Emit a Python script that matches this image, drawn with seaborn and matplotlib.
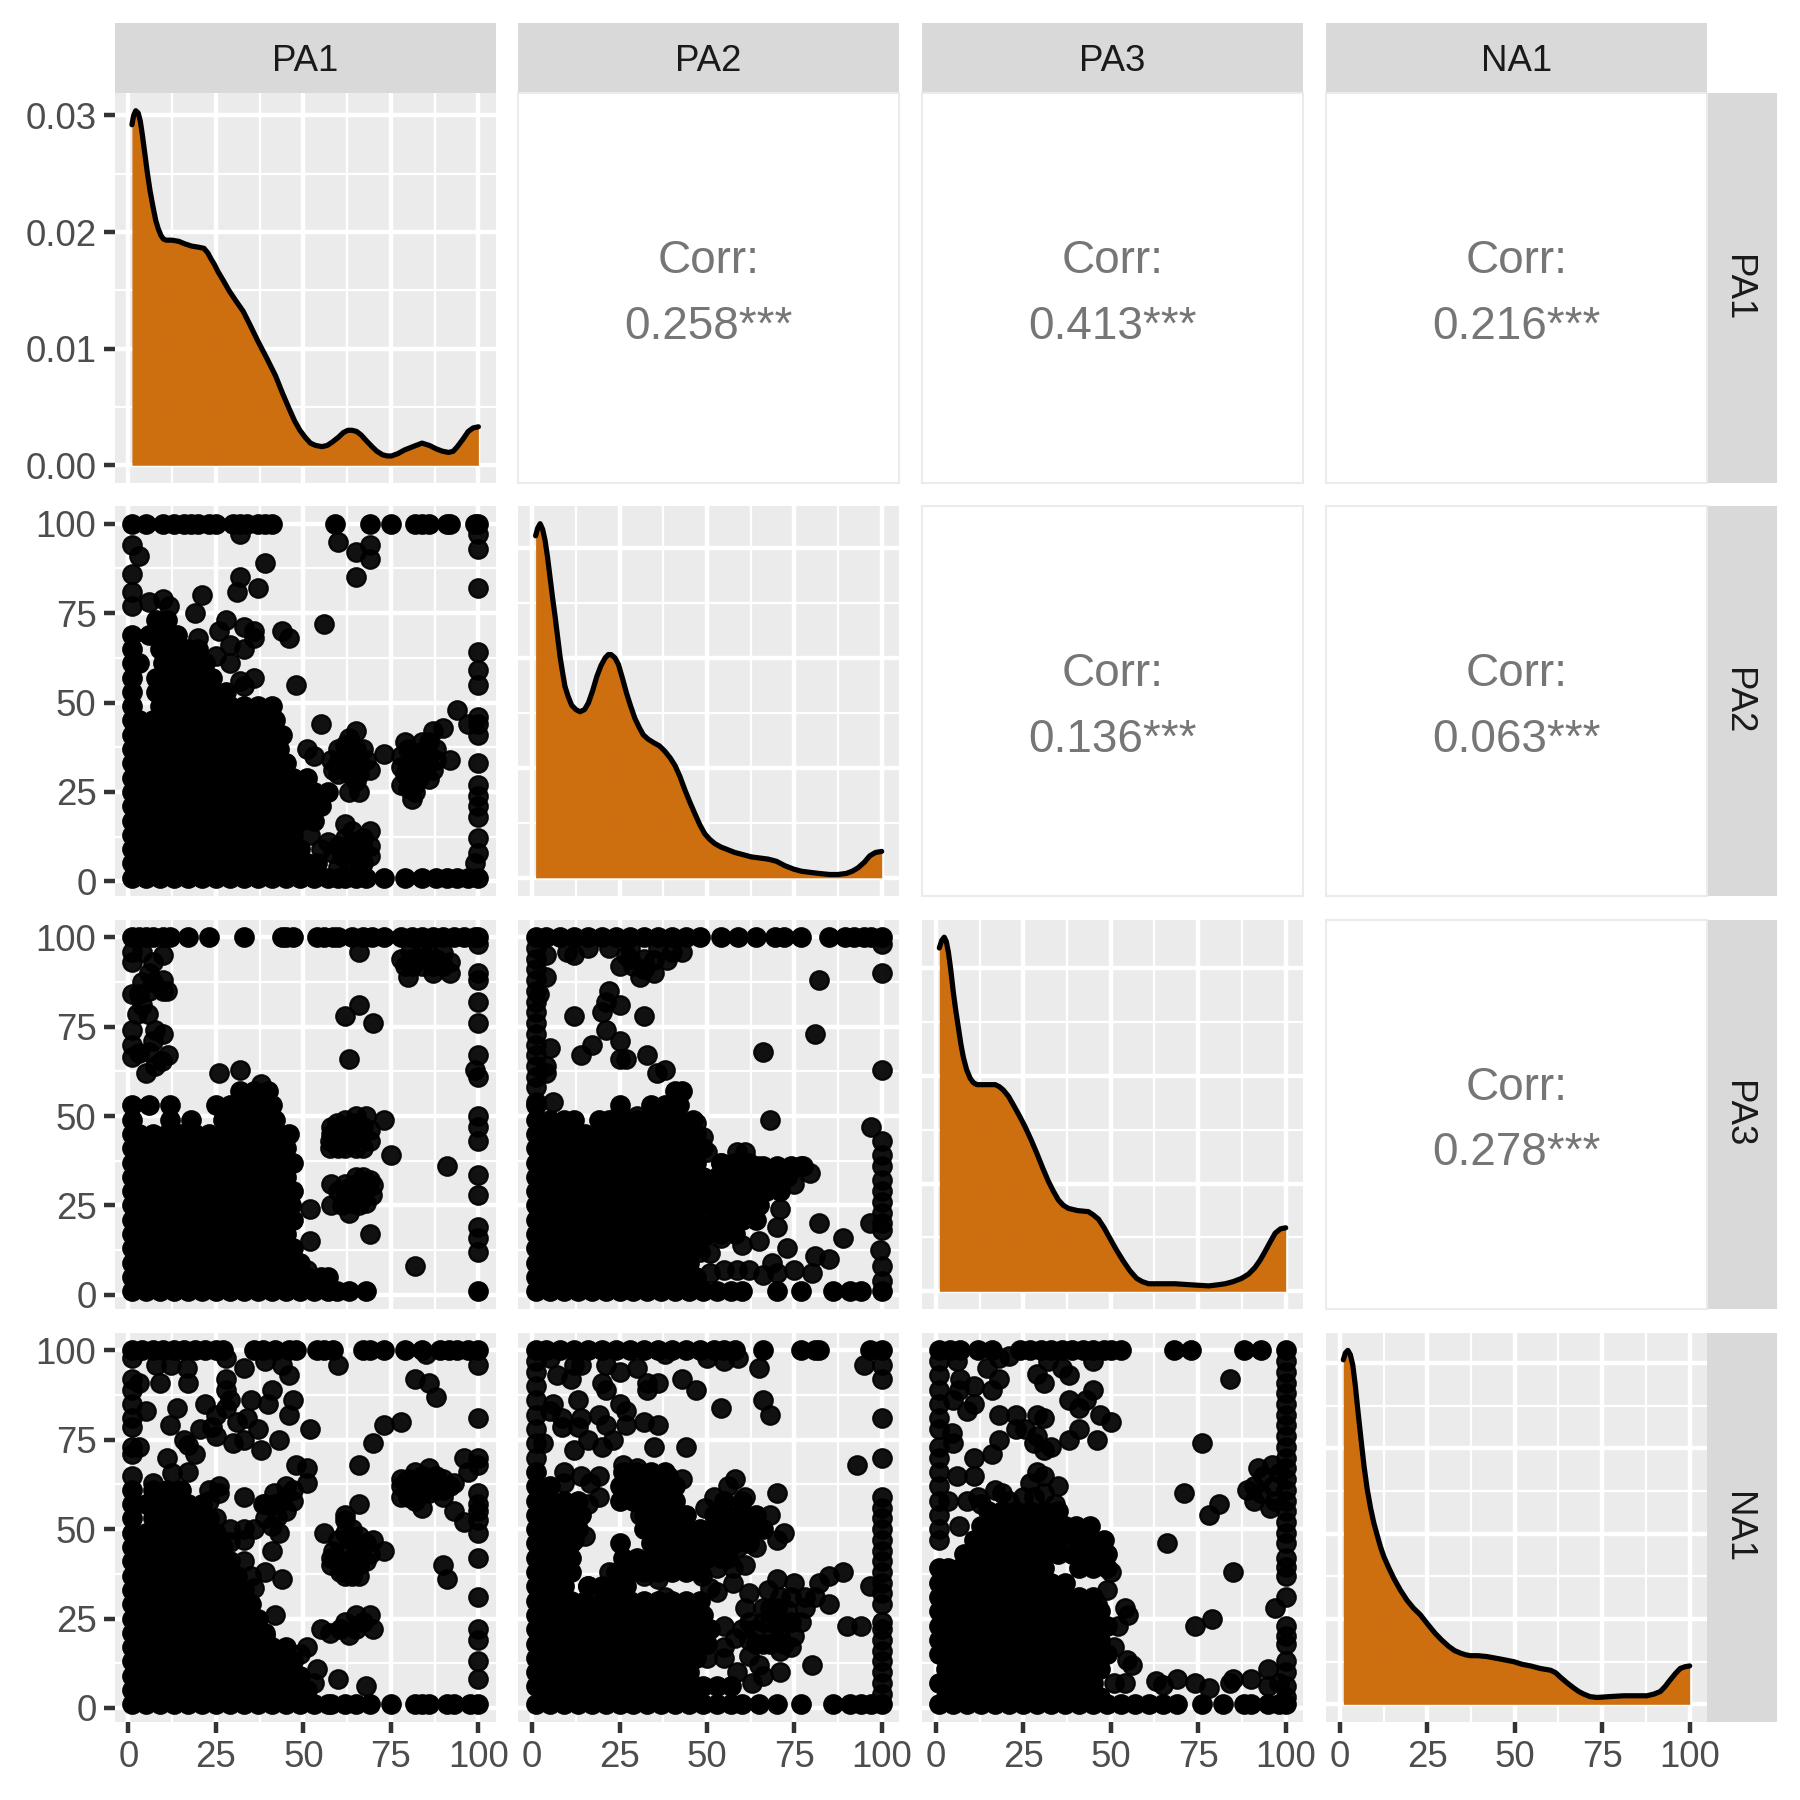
import matplotlib
matplotlib.use("Agg")
import matplotlib.pyplot as plt
import pandas as pd
import seaborn as sns

labels = ["PA1", "PA2", "PA3", "NA1"]
corr_text = {(0, 1): "0.258***", (0, 2): "0.413***", (0, 3): "0.216***",
             (1, 2): "0.136***", (1, 3): "0.063***", (2, 3): "0.278***"}

# density curves
pa1_density = [(1, .0292), (1.5, .0300), (2.1, .0304), (2.8, .0302), (3.4, .0295), (4, .0283), (4.7, .0267), (5.4, .0251), (6.2, .0235), (7, .0222), (7.8, .0210), (8.5, .0203), (9.3, .0197), (10, .0194), (10.8, .0193), (12.5, .0193), (14.4, .0192), (16, .0190), (18, .0188), (20, .0187), (21.6, .0186), (22.7, .0182), (23.6, .0177), (24.6, .0172), (25.6, .0166), (27, .0159), (28.7, .0150), (30.7, .0141), (32.8, .0132), (34.8, .0120), (36.9, .0107), (39.5, .0092), (42, .0077), (44, .0062), (46, .0048), (47.5, .0038), (49, .0030), (50.5, .0024), (52, .0019), (53.5, .0017), (55.3, .0016), (56.8, .0017), (58.3, .0020), (60, .0024), (61.4, .0028), (62.7, .0030), (63.9, .0030), (65.2, .0029), (66.5, .0026), (68, .0021), (69.6, .0016), (71, .0012), (72.6, .0009), (73.9, .0008), (75.2, .0008), (77, .0010), (78.8, .0013), (81.3, .0016), (83.9, .0019), (86, .0017), (88, .0014), (89.8, .0012), (91.5, .0011), (92.8, .0012), (94, .0016), (95.5, .0022), (97.1, .0029), (98.5, .0032), (100, .0033)]
pa2_density = [(1, .0311), (1.6, .0318), (2.3, .0322), (3, .0317), (3.7, .0307), (4.4, .0292), (5.1, .0274), (5.8, .0256), (6.6, .0237), (7.3, .0219), (8, .0201), (8.7, .0187), (9.4, .0174), (10.3, .0165), (11.3, .0157), (12.5, .0153), (13.7, .0151), (15, .0153), (16.1, .0159), (17.3, .0170), (18.5, .0183), (19.7, .0193), (20.9, .0200), (21.8, .0203), (22.6, .0203), (23.7, .0200), (24.7, .0194), (25.8, .0182), (27, .0168), (28.2, .0156), (29.4, .0145), (30.6, .0137), (31.8, .0130), (33.2, .0126), (34.7, .0123), (36.4, .0120), (38, .0115), (39.5, .0109), (40.9, .0102), (42.3, .0092), (43.7, .0080), (45.1, .0069), (46.6, .0058), (48, .0048), (49.4, .0040), (50.8, .0035), (52.3, .0031), (54, .0028), (55.6, .0026), (58, .0023), (60.4, .0021), (62.7, .0019), (65.1, .0018), (67.5, .0017), (69.9, .0015), (72.3, .0011), (74.7, .0008), (77, .0006), (79.4, .0005), (82, .0004), (85.1, .0003), (87.5, .0003), (89.9, .0004), (91.6, .0006), (93.2, .0009), (95, .0014), (96.6, .0020), (98.2, .0023), (100, .0024)]
pa3_density = [(1, .0319), (1.7, .0326), (2.4, .0329), (3, .0325), (3.6, .0315), (4.3, .0298), (5, .0278), (5.7, .0261), (6.5, .0244), (7.2, .0229), (7.9, .0217), (8.8, .0206), (9.8, .0198), (10.7, .0194), (11.7, .0192), (14, .0192), (17, .0192), (18.2, .0190), (19.3, .0187), (20.8, .0181), (22.2, .0173), (23.9, .0163), (25.5, .0153), (27.2, .0141), (28.9, .0128), (30.5, .0115), (32.2, .0102), (33.6, .0093), (35, .0085), (36.4, .0080), (37.9, .0077), (40.5, .0075), (43.6, .0074), (45, .0071), (46.5, .0067), (48.1, .0059), (49.8, .0049), (51.7, .0038), (53.6, .0028), (55.5, .0019), (57.4, .0012), (59, .0009), (60.8, .0007), (64.5, .0007), (68.4, .0007), (73, .0006), (78, .0005), (80.5, .0006), (82.7, .0007), (85, .0009), (87.4, .0012), (89.4, .0016), (91.2, .0022), (92.7, .0029), (94.1, .0037), (95.6, .0046), (97, .0054), (98.5, .0058), (100, .0059)]
na1_density = [(1, .0404), (1.6, .0412), (2.3, .0415), (3, .0410), (3.7, .0398), (4.4, .0375), (5.1, .0347), (6, .0313), (6.9, .0280), (7.8, .0253), (8.8, .0230), (9.7, .0213), (10.7, .0198), (11.6, .0185), (12.6, .0173), (14, .0160), (15.4, .0148), (17.3, .0134), (19.2, .0122), (21, .0113), (23, .0105), (25.1, .0094), (27.3, .0083), (29.2, .0075), (31.1, .0068), (32.8, .0063), (34.5, .0060), (36, .0058), (37.3, .0057), (39.5, .0057), (42, .0056), (46, .0053), (49.7, .0050), (52, .0047), (54.5, .0045), (57.3, .0042), (60.2, .0040), (61.7, .0037), (63, .0032), (65, .0025), (66.9, .0019), (68.3, .0015), (69.7, .0012), (71.5, .0009), (73.5, .0008), (77, .0009), (81.1, .0010), (84.5, .0010), (87.8, .0010), (89.8, .0012), (91.6, .0015), (93, .0021), (94.5, .0029), (95.9, .0036), (97.3, .0042), (98.6, .0044), (100, .0045)]

# scatter panels: rows are (y, [x, x, ...]), pts are single (x, y)
pa2_pa1_rows = [
    (100, [1, 5, 10, 13, 16, 18, 20, 23, 25, 30, 32, 34, 37, 39, 41, 59, 69, 75, 82, 84, 86, 91, 92, 99, 100]),
    (1, [1, 5, 9, 13, 17, 21, 25, 29, 33, 37, 41, 45, 49, 53, 57, 60, 62, 65, 68, 73, 79, 84, 88, 91, 94, 97, 100]),
    (5, [1, 3, 7, 11, 15, 19, 23, 27, 31, 35, 39, 43, 47, 51, 54]),
    (9, [1, 5, 9, 13, 17, 21, 25, 29, 33, 37, 41, 45, 49]),
    (13, [1, 3, 7, 11, 15, 19, 23, 27, 31, 35, 39, 43, 47]),
    (17, [1, 5, 9, 13, 17, 21, 25, 29, 33, 37, 41, 45, 49, 53]),
    (21, [1, 3, 7, 11, 15, 19, 23, 27, 31, 35, 39, 43, 47, 51, 55]),
    (25, [1, 5, 9, 13, 17, 21, 25, 29, 33, 37, 41, 45, 49, 53, 57]),
    (29, [1, 3, 7, 11, 15, 19, 23, 27, 31, 35, 39, 43, 47, 51]),
    (33, [1, 5, 9, 13, 17, 21, 25, 29, 33, 37, 41, 45]),
    (37, [1, 3, 7, 11, 15, 19, 23, 27, 31, 35, 39, 43]),
    (41, [1, 5, 9, 13, 17, 21, 25, 29, 33, 37, 41, 44]),
    (45, [1, 3, 7, 11, 15, 19, 23, 27, 31, 35, 39, 42]),
    (49, [1, 9, 13, 17, 21, 25, 29, 33, 37, 41]),
    (53, [1, 8, 12, 16, 20, 24, 28]),
    (57, [1, 8, 12, 16, 20, 24]),
    (61, [1, 3, 10, 14, 18, 22]),
    (65, [1, 9, 13, 17, 20]),
    (69, [1, 6, 10, 14]),
    (73, [8, 11]),
]
pa2_pa1_pts = [
    (32, 97), (1, 94), (3, 91), (1, 86), (1, 81), (1, 77), (6, 78), (10, 79), (11.5, 77), (21, 80), (19, 75),
    (32, 85), (31, 81), (37, 82), (39, 89), (60, 95), (65, 92), (69, 94), (69, 90), (65, 85), (100, 97), (100, 93), (100, 82),
    (28, 73), (26, 70), (33, 71), (36, 70), (36, 68), (33, 65), (29, 66), (29, 61), (20, 68), (25, 63), (20, 63),
    (44, 70), (46, 68), (56, 72), (48, 55), (36, 57), (33, 54.5), (32, 56), (100, 64), (100, 59), (100, 55),
    (51, 37), (53, 35), (55, 44), (58, 34), (65, 42), (63, 40), (65, 37), (62, 35), (66, 34), (69, 31), (73, 35.5), (63, 30), (63, 25), (66, 25), (60, 33), (58.5, 31),
    (60, 37), (62, 38), (64, 33), (68, 34), (60, 30), (66, 30), (67, 37), (65, 28), (62, 32), (64, 36),
    (79, 39), (78, 35), (78, 32), (78, 27), (81, 23), (81, 29), (83, 32), (83, 36), (87, 42), (86, 39), (90, 43), (88, 37), (87, 31), (92, 34), (86, 28.5), (81.5, 34), (94, 48), (97, 44), (100, 46), (100, 44), (100, 41),
    (80, 37), (80, 32), (84, 34), (86, 35), (85, 32), (83, 29), (85, 37), (88, 34), (80, 26), (82, 27), (84, 31), (79, 30), (84, 39), (82, 25),
    (100, 33), (100, 27), (100, 24), (100, 21), (100, 18), (100, 12), (100, 8), (99, 5),
    (62, 16), (69, 14), (52, 13), (57, 11), (55, 9), (62, 12), (69, 10), (69, 7), (65, 11), (65, 7), (61, 7), (63, 4), (58.5, 8),
    (64, 14), (60, 10), (63, 9), (67, 9), (66, 4), (60, 4), (67, 12), (67, 5),
]

pa3_pa1_rows = [
    (100, [1, 3, 5, 7, 10, 12, 17, 23, 33, 44, 45, 47, 54, 56, 58.5, 60, 64, 67, 69.5, 73, 78, 81, 84, 87, 90, 93, 96, 99, 100]),
    (1, [1, 5, 9, 13, 17, 21, 25, 29, 33, 37, 41, 45, 49, 53, 57, 59.5, 63, 68, 100]),
    (5, [1, 3, 7, 11, 15, 19, 23, 27, 31, 35, 39, 43, 47, 51, 55, 57]),
    (9, [1, 5, 9, 13, 17, 21, 25, 29, 33, 37, 41, 45, 49]),
    (13, [1, 3, 7, 11, 15, 19, 23, 27, 31, 35, 39, 43, 47]),
    (17, [1, 5, 9, 13, 17, 21, 25, 29, 33, 37, 41, 45]),
    (21, [1, 3, 7, 11, 15, 19, 23, 27, 31, 35, 39, 43, 47]),
    (25, [1, 5, 9, 13, 17, 21, 25, 29, 33, 37, 41, 45, 46.5]),
    (29, [1, 3, 7, 11, 15, 19, 23, 27, 31, 35, 39, 43, 47]),
    (33, [1, 5, 9, 13, 17, 21, 25, 29, 33, 37, 41, 45]),
    (37, [1, 3, 7, 11, 15, 19, 23, 27, 31, 35, 39, 43, 47]),
    (41, [1, 5, 9, 13, 17, 21, 25, 29, 33, 37, 41, 45]),
    (45, [1, 3, 7, 11, 15, 19, 23, 27, 31, 35, 39, 43, 46]),
    (49, [1, 12, 18, 27, 31, 35, 39, 42]),
    (53, [1, 6, 12, 25, 29, 33, 37, 41]),
    (57, [32, 36, 40]),
]
pa3_pa1_pts = [
    (1, 96), (1, 93), (10, 95), (7, 93), (4, 96), (66, 96), (78, 94), (80, 89), (82.5, 93.5), (87, 92), (92, 93), (92, 90), (87, 90), (84, 96), (90, 95.5), (86, 95), (80.5, 96), (84, 92), (81, 92),
    (84, 94), (88, 94), (81, 94), (90, 92), (79, 92),
    (100, 98), (100, 90), (100, 88), (100, 82), (100, 76), (10, 88), (4, 87.5), (1, 84), (10, 85), (6, 85), (11, 85), (2.4, 78.6), (5.7, 78.6), (7, 87.5), (3, 84), (6, 90), (4, 81),
    (1, 74), (1, 70), (1, 66.5), (10, 73), (7.6, 74), (7, 71), (11.4, 67), (3, 67.5), (6, 68), (5, 62), (7.6, 64), (9.5, 65.5), (26, 62), (32, 63),
    (66, 81), (62, 78), (70, 76), (63, 66), (100, 67), (99, 63), (100, 61), (100, 50), (100, 47), (100, 43), (100, 33.5), (100, 28), (100, 19), (100, 16), (100, 12),
    (91, 36), (75, 39), (82, 8), (69, 17), (38, 59),
    (73, 49), (65, 50), (68, 50), (59.5, 48), (62, 49), (58, 47), (57.6, 43), (57.6, 41), (62, 41), (67, 41), (65, 48), (69, 46), (63, 45), (60.5, 43), (66, 44), (69, 43),
    (60, 45), (64, 46), (60, 41), (64, 43), (67, 47), (62, 47), (65, 41), (58, 45), (66, 46),
    (58, 31), (58, 25), (63, 23), (67, 33), (70, 30.7), (69.5, 28), (68, 25.6), (63, 30), (65, 28), (62, 27), (67, 30), (64, 25.6),
    (65, 31), (67, 27), (65, 33), (69, 32), (60, 29), (61, 25), (66, 25), (62, 31),
    (52, 24), (52, 15), (51, 7),
]

pa3_pa2_rows = [
    (100, [1, 4, 8, 12, 16, 20, 24, 28, 32, 36, 40, 44, 48, 54, 59, 64, 69.4, 72, 77, 85, 89.5, 92, 95, 97, 100]),
    (1, [1, 5, 9, 13, 17, 21, 25, 29, 33, 37, 41, 45, 49, 53, 57, 60, 70, 77, 86, 91, 94, 100]),
    (5, [1, 3, 7, 11, 15, 19, 23, 27, 31, 35, 39, 43, 47]),
    (9, [1, 5, 9, 13, 17, 21, 25, 29, 33, 37, 41, 45]),
    (13, [1, 3, 7, 11, 15, 19, 23, 27, 31, 35, 39, 43, 47]),
    (17, [1, 5, 9, 13, 17, 21, 25, 29, 33, 37, 41, 45, 50, 54, 58]),
    (21, [1, 3, 7, 11, 15, 19, 23, 27, 31, 35, 39, 43, 47, 52, 56, 60, 64]),
    (25, [1, 5, 9, 13, 17, 21, 25, 29, 33, 37, 41, 45, 49, 53, 57, 61, 65]),
    (29, [1, 3, 7, 11, 15, 19, 23, 27, 31, 35, 39, 43, 47, 51, 55, 59, 63, 67, 71]),
    (33, [1, 5, 9, 13, 17, 21, 25, 29, 33, 37, 41, 45, 49, 53, 57, 61, 65, 69, 73]),
    (36, [66, 70, 74, 77]),
    (37, [1, 3, 7, 11, 15, 19, 23, 27, 31, 35, 39, 43, 47, 54, 58, 62]),
    (41, [1, 5, 9, 13, 17, 21, 25, 29, 33, 37, 41, 45, 49]),
    (45, [1, 3, 7, 11, 15, 19, 23, 27, 31, 35, 39, 43, 47]),
    (49, [1, 5, 9, 12, 19, 22, 26, 30, 34, 38, 42, 46]),
    (53, [1, 25, 34, 38, 42]),
    (57, [41, 43]),
]
pa3_pa2_pts = [
    (1, 58), (1, 61), (1, 64), (1, 67), (1, 70), (1, 73), (1, 76), (1, 79), (1, 82), (1, 85), (1, 88), (1, 91), (1, 94), (1, 97),
    (4, 95), (4, 89), (2, 84), (5, 69), (4, 64), (4, 62), (12, 95), (10, 96), (16, 97), (31, 89), (25, 92), (35, 90), (27, 95), (22, 97), (32, 94), (38.5, 93.5), (43, 96), (29, 92), (35, 93.5), (40, 96), (28, 97), (36, 97), (32, 91), (28, 94),
    (22, 85), (21, 82), (20, 79), (25, 81), (12, 78), (32, 78), (21, 74), (25, 71), (17, 70), (14, 67), (25, 66), (27, 66), (33, 67), (38, 63), (35.6, 62),
    (82, 88), (100, 90), (100, 98), (81, 73), (66, 68), (100, 63), (68, 49), (97, 47), (100, 43), (100, 39), (100, 36), (100, 32), (100, 29), (100, 26), (100, 23), (100, 20), (100, 18),
    (96.6, 20), (99.5, 12.5), (100, 8), (100, 4), (82, 20), (89, 16), (71, 24), (70, 19), (65, 15), (60, 14), (54, 16), (73, 13), (81, 11), (85, 10), (80, 6), (75, 7), (68.5, 9), (66, 5.6), (70, 6), (62, 7), (58.5, 7), (55, 7), (51, 11.6), (51, 6), (48, 12),
    (6, 54), (1, 54), (25, 51), (11, 48), (30, 50), (47, 48), (49, 44), (50, 40), (61, 40), (58.5, 40), (64.7, 36), (77.5, 36), (79.4, 34), (75, 31), (54, 37),
]

na1_pa1_rows = [
    (100, [1, 4, 7, 10, 13, 16, 19, 22, 25, 27, 36, 38.5, 42, 46, 48, 54, 56, 58.5, 67, 69, 73, 79, 84, 89, 91.5, 94, 97, 100]),
    (1, [1, 5, 9, 13, 17, 21, 25, 29, 33, 37, 41, 45, 49, 53, 57, 58, 62, 65, 69, 75, 82, 84, 86, 91, 93, 97.6, 100]),
    (5, [1, 3, 7, 11, 15, 19, 23, 27, 31, 35, 39, 43, 47, 51]),
    (9, [1, 5, 9, 13, 17, 21, 25, 29, 33, 37, 41, 45, 49]),
    (13, [1, 3, 7, 11, 15, 19, 23, 27, 31, 35, 39, 43, 47]),
    (17, [1, 5, 9, 13, 17, 21, 25, 29, 33, 37, 41, 45]),
    (21, [1, 3, 7, 11, 15, 19, 23, 27, 31, 35, 39]),
    (25, [1, 5, 9, 13, 17, 21, 25, 29, 33, 37]),
    (29, [1, 3, 7, 11, 15, 19, 23, 27, 31, 35]),
    (33, [1, 5, 9, 13, 17, 21, 25, 29, 33]),
    (37, [1, 3, 7, 11, 15, 19, 23, 27, 31]),
    (41, [1, 5, 9, 13, 17, 21, 25, 29]),
    (45, [1, 3, 7, 11, 15, 19, 23, 27]),
    (49, [1, 5, 9, 13, 17, 21, 25]),
    (53, [1, 7, 11, 15, 19, 23]),
    (57, [1, 5, 9, 13, 17, 21]),
    (61, [1, 7, 11, 15]),
]
na1_pa1_pts = [
    (28, 98), (33, 95), (85, 99), (39, 97), (44, 96), (46, 93), (60, 96), (100, 96), (1, 98), (8, 96), (12.3, 96), (16.7, 95), (9, 91), (17, 91), (3, 91), (1, 92), (1, 89),
    (28, 92), (28, 89), (29, 86), (41, 89), (35, 86), (40, 85), (47, 86), (46, 82), (52, 78), (14, 84), (5, 83), (1, 85), (1, 81), (1, 78.6), (12, 79), (22, 85), (20.5, 78), (24, 78.6), (25, 76), (34, 81), (31, 80), (37, 78), (25, 82), (28, 84), (30, 74), (33, 75), (38, 72), (43, 75), (16, 75), (17, 73.5), (19, 71), (11, 70), (1, 73), (3, 73), (1, 71),
    (82, 92), (86, 91), (88, 87), (100, 81), (78, 80), (73, 79), (70, 74), (66, 68), (66, 57), (62, 54),
    (48, 68), (51, 67), (51, 63), (45, 62), (41.5, 60), (47, 58), (38.5, 57), (45, 55), (42.5, 53.5), (41, 51), (43, 49), (41, 44), (36, 50), (33, 50), (29, 46.5), (33, 47), (29, 50), (25, 53), (33, 59), (26, 62), (23, 61), (26, 60), (23, 58), (39, 57), (42, 57), (44, 58), (39, 53), (47, 61),
    (17, 66), (12.4, 65.6), (7, 63), (1, 65), (96, 70), (100, 70), (100, 68), (97, 66),
    (86, 67), (82, 66), (78, 64), (78, 62), (78, 59), (82, 58), (84, 56), (90, 61), (93, 63), (87, 63), (83, 63), (81, 61), (86, 60), (84, 65), (90, 64),
    (80, 64), (84, 62), (88, 61), (80, 59), (84, 60), (88, 65), (92, 62), (90, 59), (82, 60),
    (93, 55), (96, 52), (100, 60), (100, 57), (100, 55), (100, 52.6), (100, 49), (100, 42), (100, 31), (100, 22), (100, 19), (100, 13), (100, 8), (90, 40), (91, 36),
    (56, 49), (62, 52.6), (70, 47), (73, 44), (58.6, 44), (58, 40), (62, 49), (62, 44), (66, 44), (62, 40), (66, 40), (64, 37), (60.5, 38), (69, 43), (66, 48),
    (60, 47), (64, 47), (60, 41), (64, 42), (68, 41), (66, 37), (62, 37), (58, 42), (64, 50), (68, 46),
    (55, 22), (57.6, 21), (63, 20.5), (60.5, 22), (65, 26), (69, 26), (70, 22), (65, 22), (67, 24), (62, 24),
    (42, 26), (39, 38), (44, 36), (36, 33.5), (51, 17), (54, 11), (53, 7), (60, 8), (68, 6), (49, 15), (39, 20), (33, 41), (35, 37),
]

na1_pa2_rows = [
    (100, [1, 4, 8, 12, 16, 20, 24, 28, 32, 36, 40, 44, 48, 52, 55, 58, 66, 77, 81, 82, 96.6, 100]),
    (1, [1, 5, 9, 13, 17, 21, 25, 29, 33, 37, 41, 45, 49, 53, 57, 60, 65, 70, 77, 86, 91, 94, 97, 100]),
    (3.5, [3, 7, 11, 15, 19, 23, 27, 31, 35, 39, 43, 47]),
    (6, [1, 3, 7, 11, 15, 19, 23, 27, 31, 35, 39, 43, 47, 49, 53, 57]),
    (10, [1, 5, 9, 13, 17, 21, 25, 29, 33, 37, 41, 45]),
    (14, [1, 3, 7, 11, 15, 19, 23, 27, 31, 35, 39, 43, 47]),
    (18, [1, 5, 9, 13, 17, 21, 25, 29, 33, 37, 41, 45, 50]),
    (22, [1, 3, 7, 11, 15, 19, 23, 27, 31, 35, 39, 43, 47, 51]),
    (26, [1, 5, 9, 13, 17, 21, 25, 29, 33, 37, 41, 45, 49]),
    (30, [1, 3, 7, 11, 15, 20, 24, 28, 32, 36, 40, 44, 48]),
    (34, [1, 5, 9, 16, 20, 24, 27]),
    (38, [1, 3, 7, 11, 24, 28, 32, 36, 40, 44, 48]),
    (42, [1, 5, 9, 11, 26, 30, 34, 38, 42, 46, 50, 54, 56]),
    (46, [1, 3, 7, 11, 25, 34, 38, 42, 46, 50, 54, 58, 62]),
    (50, [1, 5, 9, 13, 32, 36, 40, 44, 48, 52, 56, 60, 64, 66]),
    (54, [1, 3, 7, 11, 14, 32, 36, 40, 44, 52, 56, 60, 64]),
    (58, [1, 5, 9, 13, 25, 29, 33, 37, 41, 55, 60]),
    (62, [1, 5, 25, 29, 33, 37, 41]),
    (66, [1, 26, 30, 34, 38]),
]
na1_pa2_pts = [
    (1, 70), (1, 74), (1, 78), (1, 82), (1, 86), (1, 90), (1, 94), (1, 97), (50, 98), (55, 97), (59, 98), (65, 95), (38, 99), (5, 98), (12, 96), (14, 96), (21, 96), (7, 93), (11, 92), (20, 91), (21, 89), (25, 94), (30, 95), (33, 91), (33, 89), (36, 91), (43, 92), (47, 89),
    (54, 84), (66, 86), (68, 82), (95, 96), (100, 96), (100, 92), (100, 81), (100, 70), (93, 68), (13, 86), (6, 85), (5, 83), (8.5, 81), (8.5, 78.6), (13, 78.6), (14, 81), (19, 82), (21, 79), (25, 85), (27, 83), (27, 79), (32, 80), (36, 79), (16, 75), (12, 72), (20, 73), (23, 75), (35, 73), (44, 73), (3, 74),
    (9, 66), (14, 65), (19, 65), (16.6, 63), (9, 63), (26, 68), (30, 67), (34, 65.6), (39, 65), (43, 64), (19, 59), (16, 57),
    (58, 64), (56, 62), (52, 59), (49.5, 56), (61, 59), (70, 60), (68, 54), (72, 49), (70, 47), (64, 45), (59, 45), (61, 40), (53, 39), (57.5, 39), (57.5, 35), (51, 33.5), (53, 32.5), (48.5, 37), (38, 31), (36, 36), (32, 37), (22, 38), (16, 34), (12, 47), (15, 48), (10, 39.5), (31, 54), (26, 31), (29, 26),
    (62, 32), (61, 28), (70, 36), (67.5, 33), (75, 35), (82, 35), (85, 37), (89, 38), (81, 31), (85, 29), (78, 31), (78, 28), (71, 31), (68, 28), (73, 27.5), (70, 25), (77, 24), (66, 24), (62, 24), (64, 22), (69, 21), (75, 20), (74, 17), (71, 16), (66, 18), (55, 23), (58, 19.5), (55, 17), (50, 14), (55, 14), (62, 14.4), (65, 12), (66, 9), (71, 10), (63, 7), (58.5, 10), (80, 12), (90, 23), (94, 23), (96.6, 34), (72, 24), (68, 24), (71, 20),
    (74, 24), (70, 28), (74, 31), (66, 28), (68, 18), (72, 18), (64, 18), (60, 22), (62, 19),
    (100, 59), (100, 56), (100, 53), (100, 50), (100, 47), (100, 44), (100, 41), (100, 38), (100, 35), (100, 32), (100, 29), (100, 24), (100, 22), (100, 19), (100, 16), (100, 13), (100, 10), (100, 7), (100, 4),
]

na1_pa3_rows = [
    (100, [1, 4, 7, 12, 16, 24, 27, 30, 33, 36, 39, 42, 45, 48, 50, 53, 68, 73, 88, 93, 100]),
    (1, [1, 5, 9, 13, 17, 21, 25, 29, 33, 37, 41, 45, 49, 53, 57, 61, 65, 69, 76, 82, 88, 90, 95, 98, 100]),
    (3, [3, 7, 11, 15, 19, 23, 27, 31, 35, 39, 43, 47]),
    (7, [1, 5, 9, 13, 17, 21, 25, 29, 33, 37, 41, 45]),
    (11, [3, 7, 11, 15, 19, 23, 27, 31, 35, 39, 43, 47]),
    (15, [1, 5, 9, 13, 17, 21, 25, 29, 33, 37, 41, 45, 49]),
    (19, [1, 3, 7, 11, 15, 19, 23, 27, 31, 35, 39, 43, 47]),
    (23, [1, 5, 9, 13, 17, 21, 25, 29, 33, 37, 41, 45, 49]),
    (27, [1, 3, 7, 11, 15, 19, 23, 27, 31, 35, 39, 43, 47]),
    (31, [1, 5, 9, 13, 17, 21, 25, 29, 33, 37, 41, 45]),
    (35, [1, 5, 9, 13, 17, 21, 25, 29, 33, 37]),
    (39, [1, 3.6, 7, 11, 15, 19, 23, 27, 31, 41, 45, 49]),
    (43, [8, 11, 15, 19, 23, 27, 31, 35, 39, 43, 47, 49]),
    (47, [11, 15, 19, 23, 27, 31, 35, 40, 44, 48]),
    (51, [13, 17, 21, 25, 29, 33, 37, 40, 44]),
    (55, [15, 19, 23, 27, 31, 35]),
]
na1_pa3_pts = [
    (21, 98.5), (18, 98), (6, 97), (14.6, 95), (18, 92), (16, 89), (7, 92), (11, 90), (6.5, 89), (5, 86), (11, 85), (9, 83), (29, 93.5), (31, 91), (32, 97), (36, 95), (38, 93), (45, 97), (45, 89), (38, 86), (43, 86), (41, 84), (47, 82), (50, 80), (41, 78), (38, 75), (46, 75),
    (18, 82), (23, 82), (29, 82), (31, 81), (23, 78), (25.5, 78), (29, 76), (28, 74), (31, 72), (33, 73), (18, 75), (16, 71), (11, 70), (4.6, 77), (5, 74), (6, 65), (11, 65), (3.6, 58),
    (1, 97), (1, 93), (1, 89), (1, 85), (1, 81), (1, 78), (1, 73), (1, 70), (1, 66), (1, 62), (1, 58), (1, 54), (1, 50), (1, 47),
    (9, 58), (12, 59), (13, 57), (17, 61), (19, 60), (29, 66), (31, 65), (35, 62), (27, 63), (25, 59), (34, 57), (6.5, 51), (33.6, 34), (21, 58), (28, 59), (31, 60),
    (66, 46), (85, 38), (79, 25), (74, 23), (71, 60), (81, 57), (78, 54), (76, 74), (84, 92),
    (100, 97), (100, 94), (100, 91), (100, 88), (100, 85), (100, 82), (100, 79), (100, 76), (100, 73), (100, 70), (100, 67), (100, 64), (100, 61), (100, 58), (100, 55), (100, 52), (100, 49), (100, 46), (100, 42), (100, 39.5), (100, 37), (100, 31), (97, 28), (100, 23), (100, 20), (100, 18), (100, 13), (100, 10), (100, 6), (100, 3),
    (92, 67), (96, 68), (89, 61), (91, 58), (95.5, 56), (93.6, 65), (96.5, 62), (93, 60), (97, 58), (98, 65.6), (91, 62),
    (63, 7.4), (65, 6.5), (69, 8), (74, 7), (78, 5.6), (84, 7), (85, 8), (90, 8), (95, 11), (95, 6), (98, 7),
    (51, 7), (54, 7), (54.6, 13.5), (56, 12), (51, 17), (52, 23), (54, 28), (55, 26), (46, 29), (49, 33), (50, 38),
]

densities = [pa1_density, pa2_density, pa3_density, na1_density]
density_ticks = [[0, .01, .02, .03], [0, .01, .02, .03], [0, .01, .02, .03], [0, .01, .02, .03, .04]]
density_minor = [[.005, .015, .025], [.005, .015, .025], [.005, .015, .025], [.005, .015, .025, .035]]
scatter_data = {(1, 0): (pa2_pa1_rows, pa2_pa1_pts), (2, 0): (pa3_pa1_rows, pa3_pa1_pts), (2, 1): (pa3_pa2_rows, pa3_pa2_pts),
                (3, 0): (na1_pa1_rows, na1_pa1_pts), (3, 1): (na1_pa2_rows, na1_pa2_pts), (3, 2): (na1_pa3_rows, na1_pa3_pts)}
major = [0, 25, 50, 75, 100]
minor = [12.5, 37.5, 62.5, 87.5]

# panel edges in pixels
col_px = [(114.6, 495.7), (518.3, 899), (922, 1303), (1326, 1707)]
row_px = [(93, 483), (506, 895.5), (919.5, 1309), (1332.7, 1722)]
STRIP = "#D9D9D9"

sns.set_theme(style="darkgrid", rc={"axes.facecolor": "#EBEBEB", "grid.color": "white"})
plt.rcParams["font.family"] = ["Liberation Sans", "DejaVu Sans"]


def rows_frame(rows):
    xs, ys = [], []
    for y, row in rows:
        xs += row
        ys += [y] * len(row)
    return pd.DataFrame({"x": xs, "y": ys})


def box(x0, y0, x1, y1):
    return fig.add_axes([x0 / 1800, 1 - y1 / 1800, (x1 - x0) / 1800, (y1 - y0) / 1800])


def style_panel(ax, i, j, yticks, yminor):
    ax.set_xticks(major)
    ax.set_xticks(minor, minor=True)
    ax.set_yticks(yticks)
    ax.set_yticks(yminor, minor=True)
    ax.grid(True, which="major", color="white", lw=1.07)
    ax.grid(True, which="minor", color="white", lw=0.53)
    ax.set_axisbelow(True)
    ax.set_xlabel("")
    ax.set_ylabel("")
    for s in ax.spines.values():
        s.set_visible(False)
    ax.tick_params(which="minor", length=0)
    ax.tick_params(which="major", length=2.75, width=1.07, color="#333333", labelcolor="#4D4D4D",
                   labelsize=8.8, pad=1.6, bottom=i == 3, left=j == 0, labelbottom=i == 3, labelleft=j == 0)


fig = plt.figure(figsize=(6, 6), dpi=300, facecolor="white")

for j, name in enumerate(labels):
    ax = box(col_px[j][0], 23, col_px[j][1], 93)
    ax.set_facecolor(STRIP)
    ax.set_xticks([])
    ax.set_yticks([])
    ax.grid(False)
    for s in ax.spines.values():
        s.set_visible(False)
    ax.text(0.5, 0.447, name, transform=ax.transAxes, ha="center", va="center", fontsize=8.8, color="#1A1A1A")

for i, name in enumerate(labels):
    ax = box(1707, row_px[i][0], 1777, row_px[i][1])
    ax.set_facecolor(STRIP)
    ax.set_xticks([])
    ax.set_yticks([])
    ax.grid(False)
    for s in ax.spines.values():
        s.set_visible(False)
    ax.text(0.44, 0.5, name, transform=ax.transAxes, ha="center", va="center", rotation=-90, fontsize=8.8, color="#1A1A1A")

for i in range(4):
    for j in range(4):
        ax = box(col_px[j][0], row_px[i][0], col_px[j][1], row_px[i][1])
        if i < j:
            ax.set_facecolor("white")
            ax.set_xticks([])
            ax.set_yticks([])
            ax.grid(False)
            for s in ax.spines.values():
                s.set_color("#EBEBEB")
                s.set_linewidth(0.5)
            ax.text(0.5, 0.568, "Corr:", transform=ax.transAxes, ha="center", va="center", fontsize=11, color="#767676")
            ax.text(0.5, 0.40, corr_text[(i, j)], transform=ax.transAxes, ha="center", va="center", fontsize=11, color="#767676")
        elif i == j:
            dx = [p[0] for p in densities[i]]
            dy = [p[1] for p in densities[i]]
            ax.fill_between(dx, 0, dy, color="#CC6A08", alpha=0.97, lw=0, zorder=2)
            sns.lineplot(x=dx, y=dy, ax=ax, color="black", lw=1.25, errorbar=None, zorder=3, solid_joinstyle="round")
            ax.set_xlim(-3.95, 104.95)
            ax.set_ylim(-0.05 * max(dy), 1.05 * max(dy))
            style_panel(ax, i, j, density_ticks[i], density_minor[i])
            if j == 0:
                ax.set_yticklabels(["0.00", "0.01", "0.02", "0.03"])
        else:
            rows, pts = scatter_data[(i, j)]
            dense = rows_frame(rows)
            single = pd.DataFrame(pts, columns=["x", "y"])
            sns.scatterplot(data=dense, x="x", y="y", ax=ax, s=20, color="black", alpha=1, linewidth=0.5, edgecolor="black", legend=False, zorder=3)
            sns.scatterplot(data=single, x="x", y="y", ax=ax, s=20, color="black", alpha=0.93, linewidth=0.5, edgecolor="black", legend=False, zorder=3)
            ax.set_xlim(-3.95, 104.95)
            ax.set_ylim(-3.95, 104.95)
            style_panel(ax, i, j, major, minor)

fig.savefig("out.png", dpi=300, facecolor="white")
